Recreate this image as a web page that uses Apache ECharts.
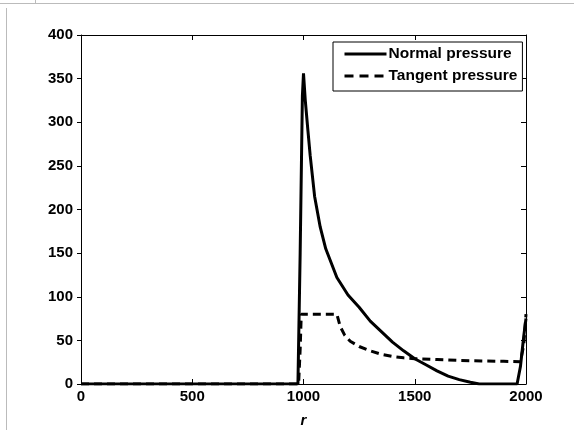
<!DOCTYPE html>
<html>
<head>
<meta charset="utf-8">
<script src="https://cdn.jsdelivr.net/npm/echarts@6/dist/echarts.min.js"></script>
<style>
html,body{margin:0;padding:0;background:#fff;}
#c{width:574px;height:430px;}
</style>
</head>
<body>
<div id="c"></div>
<script>
// Data
var xTicks = [0, 500, 1000, 1500, 2000];
var yTicks = [0, 50, 100, 150, 200, 250, 300, 350, 400];

var normalR = [0, 975, 985, 995, 1000, 1008, 1020, 1030, 1050, 1075, 1100, 1150, 1200, 1250, 1300, 1350, 1400, 1450, 1500, 1550, 1600, 1650, 1700, 1750, 1790, 1960, 1975, 1990, 2000];
var normalP = [0, 0, 150, 330, 356, 325, 290, 262, 215, 180, 155, 122, 102, 88, 72, 60, 48, 38, 29, 22, 15, 9, 5, 2, 0, 0, 20, 55, 75];

var tangentR = [0, 978, 985, 990, 1150, 1165, 1185, 1210, 1250, 1300, 1350, 1400, 1450, 1500, 1600, 1700, 1800, 1900, 1975, 1990, 2000];
var tangentP = [0, 0, 40, 80, 80, 66, 56, 49, 43, 38, 34, 31.5, 30, 29, 28, 27, 26.5, 26, 25.5, 45, 80];

function pairs(xs, ys) { return xs.map(function (x, i) { return [x, ys[i]]; }); }

var font = 'Liberation Sans, Arial, sans-serif';
var chart = echarts.init(document.getElementById('c'), null, {renderer: 'canvas'});
var axLine = {show: true, onZero: false, lineStyle: {color: '#000', width: 1}};
var plain = function (v) { return String(v); };
chart.setOption({
  animation: false,
  backgroundColor: '#fff',
  grid: {left: 81, right: 48, top: 35, bottom: 46, containLabel: false, outerBoundsMode: 'none'},
  graphic: [
    {type: 'line', shape: {x1: 0, y1: 3.5, x2: 574, y2: 3.5}, style: {stroke: '#bbb', lineWidth: 1}},
    {type: 'line', shape: {x1: 6.5, y1: 8, x2: 6.5, y2: 430}, style: {stroke: '#bbb', lineWidth: 1}},
    {type: 'line', shape: {x1: 35.5, y1: 0, x2: 35.5, y2: 3}, style: {stroke: '#bbb', lineWidth: 1}}
  ],
  legend: {
    orient: 'vertical', left: 333, top: 42,
    padding: [4, 5, 7, 10], itemGap: 6, itemWidth: 42, itemHeight: 14,
    borderColor: '#000', borderWidth: 1, backgroundColor: '#fff',
    itemStyle: {color: 'transparent', borderColor: 'transparent', borderWidth: 0, opacity: 0},
    textStyle: {fontFamily: font, fontWeight: 'bold', fontSize: 15.5, color: '#000', padding: [0, 0, 0, -3]},
    data: [
      {name: 'Normal pressure', lineStyle: {width: 3, type: 'solid'}},
      {name: 'Tangent pressure', lineStyle: {width: 3, type: [9, 6]}}
    ]
  },
  xAxis: [
    {type: 'value', min: 0, max: 2000, interval: 500, position: 'bottom',
     name: 'r', nameLocation: 'middle', nameGap: 29,
     nameTextStyle: {fontFamily: font, fontStyle: 'italic', fontWeight: 'bold', fontSize: 15, color: '#000'},
     axisLine: axLine, axisTick: {show: true, inside: true, length: 5, lineStyle: {color: '#000'}},
     axisLabel: {fontFamily: font, fontWeight: 'bold', fontSize: 15, color: '#000', margin: 5, formatter: plain},
     splitLine: {show: false}},
    {type: 'value', min: 0, max: 2000, interval: 500, position: 'top',
     axisLine: axLine, axisTick: {show: true, inside: true, length: 5, lineStyle: {color: '#000'}},
     axisLabel: {show: false}, splitLine: {show: false}}
  ],
  yAxis: [
    {type: 'value', min: 0, max: 400, interval: 50, position: 'left',
     axisLine: axLine, axisTick: {show: true, inside: false, length: 4, lineStyle: {color: '#000'}},
     axisLabel: {fontFamily: font, fontWeight: 'bold', fontSize: 15, color: '#000', margin: 8, formatter: plain},
     splitLine: {show: false}},
    {type: 'value', min: 0, max: 400, interval: 50, position: 'right',
     axisLine: axLine, axisTick: {show: true, inside: true, length: 5, lineStyle: {color: '#000'}},
     axisLabel: {show: false}, splitLine: {show: false}}
  ],
  series: [
    {name: 'Normal pressure', type: 'line', xAxisIndex: 0, yAxisIndex: 0,
     data: pairs(normalR, normalP), showSymbol: false, symbol: 'none', smooth: false,
     lineStyle: {color: '#000', width: 3, type: 'solid'}, itemStyle: {color: '#000'}},
    {name: 'Tangent pressure', type: 'line', xAxisIndex: 0, yAxisIndex: 0,
     data: pairs(tangentR, tangentP), showSymbol: false, symbol: 'none', smooth: false,
     lineStyle: {color: '#000', width: 3, type: [8, 5]}, itemStyle: {color: '#000'}}
  ]
});
</script>
</body>
</html>
